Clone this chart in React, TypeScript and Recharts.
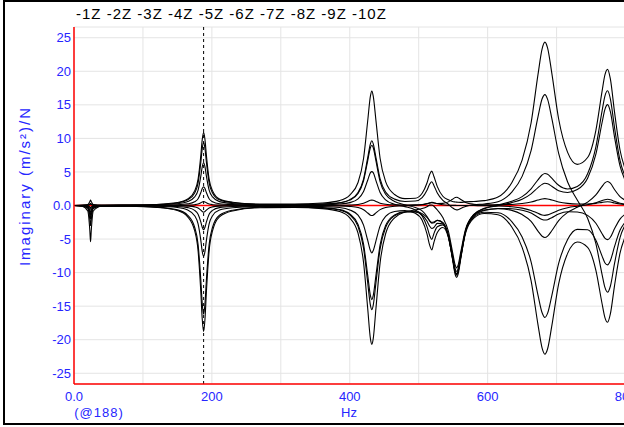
import { LineChart, Line, XAxis, YAxis, CartesianGrid, ReferenceLine, Label } from "recharts";

// frequency axis (Hz), denser around the resonances
const freqHz = [0, 12, 20, 23, 24, 25, 28, 40, 80, 120, 150, 165, 175, 180, 184, 186, 188, 190, 192, 196, 201, 211, 230, 270, 320, 360, 385, 400, 412, 420, 426, 430, 432, 434, 438, 444, 452, 465, 480, 495, 505, 512, 516, 519, 522, 527, 535, 543, 549, 553, 555, 557, 561, 568, 580, 595, 615, 635, 650, 663, 673, 679, 683, 687, 693, 703, 716, 730, 745, 757, 766, 770, 774, 778, 784, 792, 800, 815, 830];

const z1 = [0, 0.05, 0.15, 0.59, 0.83, 0.59, 0.15, 0.06, 0.07, 0.16, 0.44, 0.98, 2.18, 3.92, 7.52, 9.81, 10.9, 9.81, 7.52, 3.92, 2.18, 0.98, 0.49, 0.22, 0.22, 0.37, 0.73, 1.56, 3.43, 7.01, 12.6, 16.35, 17.05, 16.35, 12.64, 7.04, 3.56, 1.64, 1.03, 1.07, 1.82, 3.35, 4.66, 5.12, 4.36, 2.81, 1.38, 0.85, 0.6, 0.53, 0.5, 0.48, 0.46, 0.54, 0.6, 0.72, 1.25, 3.4, 6.77, 12.29, 19.5, 23.35, 24.35, 23.46, 19.77, 12.89, 7.92, 6.13, 7.15, 11.21, 17.04, 19.43, 20.29, 18.86, 13.96, 8.27, 5.27, 2.63, 1.64];
const z2 = [0, 0.03, 0.07, 0.24, 0.33, 0.24, 0.07, 0.04, 0.06, 0.14, 0.38, 0.85, 1.88, 3.38, 6.49, 8.46, 9.4, 8.46, 6.49, 3.38, 1.88, 0.85, 0.41, 0.16, 0.15, 0.22, 0.41, 0.88, 1.94, 3.94, 7.1, 9.22, 9.64, 9.22, 7.14, 3.98, 2.02, 0.95, 0.6, 0.67, 1.19, 2.28, 3.2, 3.53, 2.99, 1.86, 0.76, 0.18, -0.35, -0.6, -0.65, -0.62, -0.43, -0.16, 0.1, 0.23, 0.56, 2.0, 4.34, 8.18, 13.22, 15.9, 16.53, 15.81, 13.02, 7.76, 3.51, 0.82, -1.91, -5.69, -10.29, -12.17, -12.92, -12.03, -8.67, -4.78, -2.81, -1.14, -0.55];
const z3 = [0, -0.01, -0.2, -1.03, -1.48, -1.03, -0.2, 0, 0.04, 0.1, 0.26, 0.58, 1.28, 2.3, 4.42, 5.76, 6.4, 5.76, 4.42, 2.3, 1.28, 0.58, 0.29, 0.12, 0.12, 0.2, 0.39, 0.8, 1.79, 3.69, 6.66, 8.64, 8.98, 8.64, 6.64, 3.57, 1.67, 0.59, 0.11, -0.29, -0.81, -1.63, -2.32, -2.64, -2.58, -2.19, -2.51, -4.53, -7.99, -10.32, -10.73, -10.3, -7.92, -3.85, -1.33, -0.42, 0.08, 0.64, 1.32, 2.49, 3.83, 4.55, 4.77, 4.66, 4.07, 3.01, 2.47, 2.84, 4.72, 8.74, 14.09, 16.27, 17.09, 15.9, 11.65, 6.73, 4.18, 1.95, 1.14];
const z4 = [0, -0.05, -0.44, -2.1, -2.99, -2.1, -0.44, -0.05, 0.02, 0.04, 0.11, 0.25, 0.56, 1.01, 1.93, 2.52, 2.8, 2.52, 1.93, 1.01, 0.56, 0.25, 0.13, 0.06, 0.06, 0.11, 0.22, 0.43, 0.99, 2.09, 3.77, 4.9, 5.05, 4.9, 3.71, 1.94, 0.85, 0.18, -0.17, -0.67, -1.56, -3.15, -4.5, -5.05, -4.2, -3.17, -2.89, -4.58, -7.8, -9.98, -10.37, -9.93, -7.65, -3.76, -1.35, -0.47, -0.03, 0.43, 0.93, 1.74, 2.66, 3.15, 3.31, 3.24, 2.87, 2.2, 1.94, 2.37, 4.07, 7.64, 12.37, 14.3, 15.03, 13.98, 10.24, 5.9, 3.66, 1.7, 0.99];
const z5 = [0, -0.12, -0.82, -3.79, -5.41, -3.79, -0.82, -0.12, -0.02, -0.05, -0.14, -0.32, -0.72, -1.3, -2.48, -3.24, -3.6, -3.24, -2.48, -1.3, -0.72, -0.32, -0.16, -0.08, -0.09, -0.15, -0.3, -0.66, -1.44, -2.92, -5.18, -6.72, -7.07, -6.72, -5.26, -3.04, -1.62, -0.9, -0.77, -1.15, -2.21, -4.23, -5.94, -6.61, -5.51, -4.03, -3.27, -4.73, -7.76, -9.81, -10.18, -9.76, -7.56, -3.86, -1.56, -0.74, -0.49, -0.73, -1.35, -2.36, -3.81, -4.58, -4.77, -4.56, -3.76, -2.24, -1.02, -0.26, 0.51, 1.57, 2.85, 3.36, 3.57, 3.32, 2.39, 1.32, 0.77, 0.31, 0.15];
const z6 = [0, -0.06, -0.32, -1.42, -2.02, -1.42, -0.32, -0.07, -0.05, -0.11, -0.3, -0.68, -1.52, -2.74, -5.24, -6.84, -7.6, -6.84, -5.24, -2.74, -1.52, -0.68, -0.34, -0.16, -0.18, -0.3, -0.6, -1.27, -2.82, -5.74, -10.36, -13.44, -14.03, -13.44, -10.39, -5.86, -2.99, -1.41, -0.93, -0.96, -1.42, -2.32, -3.1, -3.43, -3.28, -2.67, -2.73, -4.43, -7.4, -9.46, -9.84, -9.45, -7.34, -3.84, -1.7, -1.0, -1.08, -2.39, -4.68, -8.39, -13.35, -15.99, -16.68, -16.04, -13.46, -8.64, -5.07, -3.56, -3.61, -5.17, -7.54, -8.52, -8.85, -8.22, -6.13, -3.7, -2.4, -1.25, -0.81];
const z7 = [0, -0.07, -0.2, -0.75, -1.05, -0.75, -0.2, -0.09, -0.1, -0.24, -0.65, -1.46, -3.24, -5.83, -11.18, -14.58, -16.2, -14.58, -11.18, -5.83, -3.24, -1.46, -0.7, -0.27, -0.24, -0.36, -0.67, -1.41, -3.11, -6.36, -11.47, -14.88, -15.52, -14.88, -11.49, -6.46, -3.29, -1.53, -0.97, -0.91, -1.21, -1.78, -2.28, -2.52, -2.47, -2.21, -2.63, -4.56, -7.72, -9.92, -10.31, -9.92, -7.72, -4.1, -1.87, -1.19, -1.37, -3.21, -6.23, -11.18, -17.74, -21.25, -22.16, -21.35, -17.97, -11.69, -7.13, -5.43, -6.23, -9.67, -14.64, -16.66, -17.39, -16.16, -11.97, -7.11, -4.54, -2.28, -1.42];
const z8 = [0, -0.07, -0.13, -0.41, -0.56, -0.41, -0.13, -0.09, -0.11, -0.28, -0.75, -1.69, -3.76, -6.77, -12.97, -16.92, -18.8, -16.92, -12.97, -6.77, -3.76, -1.69, -0.81, -0.33, -0.3, -0.47, -0.89, -1.85, -4.13, -8.49, -15.32, -19.87, -20.69, -19.87, -15.31, -8.55, -4.21, -1.83, -0.99, -0.66, -0.44, -0.17, 0.05, 0.08, -0.11, -0.67, -1.8, -3.83, -6.89, -8.91, -9.29, -8.93, -6.92, -3.52, -1.42, -0.67, -0.44, -0.48, -0.72, -1.12, -1.74, -2.08, -2.17, -2.11, -1.81, -1.27, -0.94, -0.96, -1.47, -2.64, -4.21, -4.85, -5.09, -4.73, -3.48, -2.02, -1.26, -0.59, -0.36];
const z9 = [0, 0.01, 0.03, 0.14, 0.2, 0.14, 0.03, 0.01, 0, 0.01, 0.02, 0.05, 0.12, 0.22, 0.41, 0.54, 0.6, 0.54, 0.41, 0.22, 0.12, 0.05, 0.03, 0.01, 0.01, 0.02, 0.03, 0.07, 0.16, 0.33, 0.59, 0.77, 0.8, 0.77, 0.6, 0.34, 0.18, 0.09, 0.07, 0.09, 0.16, 0.26, 0.35, 0.4, 0.38, 0.3, 0.32, 0.54, 0.92, 1.18, 1.23, 1.17, 0.9, 0.46, 0.19, 0.09, 0.13, 0.16, 0.29, 0.51, 0.81, 0.98, 1.02, 0.98, 0.82, 0.53, 0.31, 0.22, 0.22, 0.32, 0.47, 0.53, 0.55, 0.51, 0.38, 0.23, 0.15, 0.08, 0.05];
const z10 = [0, -0.01, -0.05, -0.21, -0.3, -0.21, -0.05, -0.01, -0.01, -0.02, -0.04, -0.09, -0.2, -0.36, -0.69, -0.9, -1.0, -0.9, -0.69, -0.36, -0.2, -0.09, -0.04, -0.02, -0.02, -0.03, -0.06, -0.13, -0.3, -0.62, -1.11, -1.44, -1.5, -1.44, -1.1, -0.61, -0.29, -0.12, -0.03, 0.02, 0.11, 0.28, 0.42, 0.47, 0.42, 0.25, 0.1, 0.04, 0.02, 0.02, 0.01, 0.01, 0.01, 0, -0.01, -0.02, -0.05, -0.18, -0.39, -0.73, -1.17, -1.41, -1.47, -1.4, -1.16, -0.7, -0.33, -0.1, 0.12, 0.4, 0.74, 0.87, 0.93, 0.87, 0.62, 0.34, 0.2, 0.08, 0.03];

const seriesNames = ["-1Z", "-2Z", "-3Z", "-4Z", "-5Z", "-6Z", "-7Z", "-8Z", "-9Z", "-10Z"];
const seriesValues = [z1, z2, z3, z4, z5, z6, z7, z8, z9, z10];

const xTicks = [0, 100, 200, 300, 400, 500, 600, 700, 800];
const yTicks = [-25, -20, -15, -10, -5, 0, 5, 10, 15, 20, 25];
const cursorHz = 188;

const rows = freqHz.map((hz, i) => {
  const row: Record<string, number> = { hz };
  seriesNames.forEach((name, k) => {
    row[name] = seriesValues[k][i];
  });
  return row;
});

const blue = "#2626ff";
const font = "'Liberation Sans', Arial, sans-serif";

export default function App() {
  return (
    <div
      style={{
        position: "fixed",
        left: 0,
        top: 0,
        width: 624,
        height: 427,
        overflow: "hidden",
        background: "#fff",
        fontFamily: font,
      }}
    >
      <div
        style={{
          position: "absolute",
          left: 3,
          top: 0,
          width: 700,
          height: 421,
          borderTop: "2px solid #000",
          borderLeft: "2px solid #000",
          borderBottom: "2px solid #000",
        }}
      />
      <div
        style={{
          position: "absolute",
          left: 76,
          top: 6,
          fontSize: 15,
          lineHeight: "16px",
          letterSpacing: 1,
          color: "#000",
          whiteSpace: "nowrap",
        }}
      >
        {seriesNames.join(" ")}
      </div>
      <div style={{ position: "absolute", left: 0, top: 0 }}>
        <LineChart
          width={680}
          height={427}
          data={rows}
          margin={{ top: 27, right: 20, left: 14, bottom: 3 }}
        >
          <CartesianGrid stroke="#e4e4e4" strokeWidth={1} />
          <XAxis
            dataKey="hz"
            type="number"
            domain={[0, 850]}
            ticks={xTicks}
            allowDataOverflow
            height={40}
            axisLine={{ stroke: "#ff0000", strokeWidth: 1.5 }}
            tickLine={false}
            tickSize={0}
            tickMargin={8}
            tick={{ fill: blue, fontSize: 13, fontFamily: font }}
            tickFormatter={(v) => (v === 0 ? "0.0" : v % 200 === 0 ? `${v}` : "")}
          >
            <Label
              content={() => (
                <g>
                  <text x={99} y={417} fill={blue} fontSize={13} letterSpacing={1} fontFamily={font} textAnchor="middle">
                    {`(@${cursorHz})`}
                  </text>
                  <text x={349} y={417} fill={blue} fontSize={13} fontFamily={font} textAnchor="middle">
                    Hz
                  </text>
                </g>
              )}
            />
          </XAxis>
          <XAxis
            xAxisId="top"
            orientation="top"
            type="number"
            domain={[0, 850]}
            height={0}
            tick={false}
            tickLine={false}
            axisLine={{ stroke: "#ff0000", strokeWidth: 1.5 }}
          />
          <YAxis
            type="number"
            domain={[-26.6, 26.6]}
            ticks={yTicks}
            allowDataOverflow
            width={60}
            axisLine={{ stroke: "#ff0000", strokeWidth: 1.5 }}
            tickLine={false}
            tickSize={0}
            tickMargin={3}
            tick={{ fill: blue, fontSize: 13, fontFamily: font }}
            tickFormatter={(v) => (v === 0 ? "0.0" : `${v}`)}
          >
            <Label
              content={() => (
                <text
                  x={24}
                  y={186}
                  transform="rotate(-90 24 186)"
                  textAnchor="middle"
                  dominantBaseline="central"
                  fill={blue}
                  fontSize={15}
                  letterSpacing={2}
                  fontFamily={font}
                >
                  Imaginary (m/s²)/N
                </text>
              )}
            />
          </YAxis>
          <Line
            dataKey={() => 0}
            name="zero"
            stroke="#ff0000"
            strokeWidth={1.5}
            dot={false}
            activeDot={false}
            isAnimationActive={false}
          />
          {seriesNames.map((name) => (
            <Line
              key={name}
              dataKey={name}
              type="monotone"
              stroke="#000"
              strokeWidth={1.1}
              dot={false}
              activeDot={false}
              isAnimationActive={false}
            />
          ))}
          <ReferenceLine x={cursorHz} stroke="#000" strokeDasharray="3 3" strokeWidth={1} />
        </LineChart>
      </div>
    </div>
  );
}
